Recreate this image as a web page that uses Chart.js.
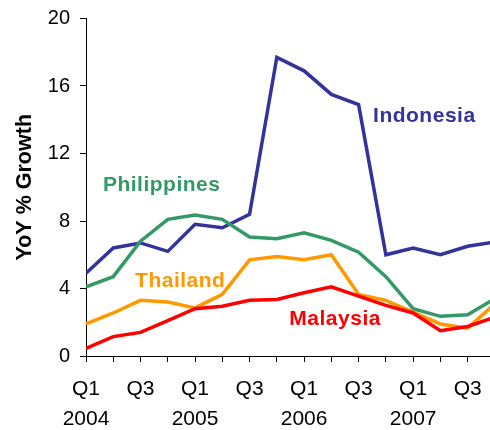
<!DOCTYPE html>
<html>
<head>
<meta charset="utf-8">
<script src="https://cdn.jsdelivr.net/npm/chart.js@4/dist/chart.umd.min.js"></script>
<style>
  html, body { margin: 0; padding: 0; background: #fff; overflow: hidden; }
  #wrap { position: relative; width: 490px; height: 430px; }
</style>
</head>
<body>
<div id="wrap"><canvas id="chart"></canvas></div>
<script>
// quarterly, Q1 2004 .. Q4 2007
const quarters = ["Q1", "Q2", "Q3", "Q4", "Q1", "Q2", "Q3", "Q4",
                  "Q1", "Q2", "Q3", "Q4", "Q1", "Q2", "Q3", "Q4"];
const years = ["2004", "2005", "2006", "2007"];
const yTicks = [0, 4, 8, 12, 16, 20];

const indonesia   = [4.9, 6.4, 6.7, 6.2, 7.8, 7.6, 8.4, 17.7, 16.9, 15.5, 14.9, 6.0, 6.4, 6.0, 6.5, 6.75];
const philippines = [4.1, 4.7, 6.8, 8.1, 8.35, 8.1, 7.05, 6.95, 7.3, 6.85, 6.15, 4.7, 2.8, 2.35, 2.45, 3.4];
const thailand    = [1.9, 2.55, 3.3, 3.2, 2.85, 3.65, 5.7, 5.9, 5.7, 6.0, 3.65, 3.3, 2.6, 1.9, 1.65, 3.1];
const malaysia    = [0.45, 1.15, 1.4, 2.1, 2.8, 2.95, 3.3, 3.35, 3.75, 4.1, 3.55, 3.0, 2.55, 1.5, 1.75, 2.3];

const seriesNames = ["Malaysia", "Thailand", "Philippines", "Indonesia"];
const seriesData = [malaysia, thailand, philippines, indonesia];
const seriesColors = ["#FF0000", "#FF9900", "#339966", "#333399"];

// label placement in data units (x = quarter index, y = value at baseline)
const callouts = [
    { text: "Indonesia", color: "#333399", x: 10.53, y: 13.85 },
    { text: "Philippines", color: "#339966", x: 0.62, y: 9.76 },
    { text: "Thailand", color: "#FF9900", x: 1.8, y: 4.07 },
    { text: "Malaysia", color: "#FF0000", x: 7.46, y: 1.82 }
];

const FONT = "'Liberation Sans', Arial, sans-serif";

const calloutPlugin = {
    id: "callouts",
    afterDatasetsDraw(chart)
    {
        const ctx = chart.ctx;
        const xs = chart.scales.x;
        const ys = chart.scales.y;
        ctx.save();
        ctx.font = "bold 21px " + FONT;
        ctx.textBaseline = "alphabetic";
        ctx.textAlign = "left";
        ctx.letterSpacing = "0.5px";
        callouts.forEach(c => {
            ctx.fillStyle = c.color;
            ctx.fillText(c.text, xs.getPixelForValue(c.x), ys.getPixelForValue(c.y));
        });
        ctx.restore();
    }
};

const datasets = seriesNames.map((name, i) => ({
    label: name,
    data: seriesData[i].map((v, k) => ({ x: k, y: v })),
    borderColor: seriesColors[i],
    backgroundColor: seriesColors[i],
    borderWidth: 3.5,
    pointRadius: 0,
    tension: 0,
    fill: false
}));

Chart.defaults.font.family = FONT;
Chart.defaults.color = "#000";

new Chart(document.getElementById("chart"), {
    type: "line",
    data: { datasets },
    options: {
        responsive: true,
        maintainAspectRatio: false,
        animation: false,
        layout: { padding: { left: 0, right: 0, top: 18.5, bottom: 0 } },
        plugins: {
            legend: { display: false },
            tooltip: { enabled: false }
        },
        scales: {
            x: {
                type: "linear",
                min: 0,
                max: 14.82,
                border: { display: true, color: "#000", width: 1 },
                grid: { drawOnChartArea: false, drawTicks: true, tickLength: 6, color: "#000" },
                ticks: {
                    autoSkip: false,
                    maxRotation: 0,
                    padding: 12,
                    font: { size: 21, lineHeight: "30px" },
                    callback: (v) => {
                        const q = quarters[v];
                        if (q === "Q1") return [q, years[Math.floor(v / 4)]];
                        if (q === "Q3") return q;
                        return "";
                    }
                },
                afterBuildTicks: (scale) => {
                    scale.ticks = quarters.map((q, i) => ({ value: i })).filter(t => t.value <= scale.max);
                },
                afterFit: (scale) => {
                    scale.height = 74;
                    scale.paddingLeft = 0;
                    scale.paddingRight = 0;
                }
            },
            y: {
                min: 0,
                max: 20,
                border: { display: true, color: "#000", width: 1 },
                grid: { drawOnChartArea: false, drawTicks: true, tickLength: 6, color: "#000" },
                ticks: {
                    padding: 10,
                    font: { size: 20 }
                },
                afterBuildTicks: (scale) => {
                    scale.ticks = yTicks.map(v => ({ value: v }));
                },
                title: {
                    display: true,
                    text: "YoY % Growth",
                    font: { size: 21.5, weight: "bold" },
                    padding: { top: 12, bottom: 0 }
                },
                afterFit: (scale) => {
                    scale.width = 86;
                    scale.paddingTop = 0;
                    scale.paddingBottom = 0;
                }
            }
        }
    },
    plugins: [calloutPlugin]
});
</script>
</body>
</html>
